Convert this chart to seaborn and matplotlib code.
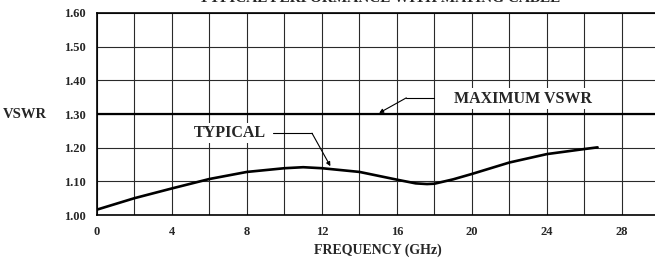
import matplotlib
matplotlib.use("Agg")
import matplotlib.pyplot as plt
import seaborn as sns

sns.set_style("white")
plt.rcParams['font.family'] = ['Liberation Serif', 'DejaVu Serif']
plt.rcParams['font.weight'] = 'bold'

# typical VSWR curve
freq_ghz = [0, 2, 4, 6, 8, 10, 11, 12, 14, 16, 17, 17.6, 18, 19, 20, 22, 24, 26, 26.7]
vswr = [1.016, 1.05, 1.079, 1.107, 1.128, 1.139, 1.142, 1.139, 1.128, 1.105,
        1.094, 1.092, 1.093, 1.106, 1.122, 1.156, 1.181, 1.196, 1.201]
max_vswr = 1.30

x_ticks = [0, 4, 8, 12, 16, 20, 24, 28]
y_ticks = [1.00, 1.10, 1.20, 1.30, 1.40, 1.50, 1.60]

fig = plt.figure(figsize=(6.55, 2.6), dpi=100)
ax = fig.add_axes([0.148, 0.173, 0.8588, 0.777])

# grid
for gx in range(0, 31, 2):
    ax.axvline(gx, color='#2a2a2a', lw=0.8, zorder=1)
for gy in y_ticks:
    ax.axhline(gy, color='#2a2a2a', lw=0.8, zorder=1)

ax.axhline(max_vswr, color='black', lw=1.6, zorder=3)
sns.lineplot(x=freq_ghz, y=vswr, color='black', lw=1.9, ax=ax, zorder=4)

ax.set_xlim(0, 30)
ax.set_ylim(1.00, 1.60)
ax.set_xticks(x_ticks)
ax.set_xticklabels([str(t) for t in x_ticks])
ax.set_yticks(y_ticks)
ax.set_yticklabels([f"{t:.2f}" for t in y_ticks])
ax.tick_params(axis='both', labelsize=9, length=3, width=0.8, direction='out',
               color='black', pad=5)
for lbl in ax.get_xticklabels() + ax.get_yticklabels():
    lbl.set_fontweight('bold')
for s in ax.spines.values():
    s.set_color('black')
    s.set_linewidth(1.2)

ax.set_xlabel("FREQUENCY (GHz)", fontsize=10, fontweight='bold', labelpad=4)
fig.text(3 / 655, 1 - 115 / 260, "VSWR", fontsize=10.5, fontweight='bold',
         va='center', ha='left')
fig.text(380 / 655, 1 - 1.5 / 260, "TYPICAL PERFORMANCE WITH MATING CABLE",
         fontsize=11, fontweight='bold', ha='center', va='baseline')

box = dict(facecolor='white', edgecolor='none', pad=1.5)

# TYPICAL label and leader
ax.text(7.1, 1.243, "TYPICAL", fontsize=11.5, fontweight='bold',
        ha='center', va='center', bbox=box, zorder=5)
ax.plot([9.4, 11.47], [1.243, 1.243], color='black', lw=0.8, zorder=5)
ax.annotate("", xy=(12.45, 1.145), xytext=(11.47, 1.243),
            arrowprops=dict(arrowstyle='-|>', color='black', lw=0.8,
                            mutation_scale=6, shrinkA=0, shrinkB=0), zorder=5)

# MAXIMUM VSWR label and leader
ax.text(22.7, 1.346, "MAXIMUM VSWR", fontsize=11.5, fontweight='bold',
        ha='center', va='center', bbox=box, zorder=5)
ax.plot([18.0, 16.5], [1.348, 1.348], color='black', lw=0.8, zorder=5)
ax.annotate("", xy=(15.05, 1.303), xytext=(16.5, 1.348),
            arrowprops=dict(arrowstyle='-|>', color='black', lw=0.8,
                            mutation_scale=6, shrinkA=0, shrinkB=0), zorder=5)

fig.savefig("out.png", dpi=100)
